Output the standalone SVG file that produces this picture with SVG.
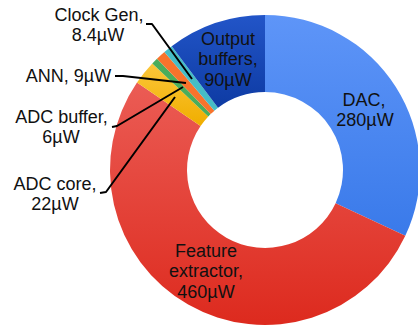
<svg xmlns="http://www.w3.org/2000/svg" width="418" height="328" viewBox="0 0 418 328">
  <defs>
    <!-- vertical shading shared across the ring -->
    <linearGradient id="gDac" gradientUnits="userSpaceOnUse" x1="0" y1="15" x2="0" y2="325">
      <stop offset="0" stop-color="#5e95f8"/>
      <stop offset="1" stop-color="#2b6fe4"/>
    </linearGradient>
    <linearGradient id="gFeat" gradientUnits="userSpaceOnUse" x1="0" y1="15" x2="0" y2="325">
      <stop offset="0" stop-color="#ef6a64"/>
      <stop offset="1" stop-color="#dd2a1e"/>
    </linearGradient>
    <linearGradient id="gCore" gradientUnits="userSpaceOnUse" x1="0" y1="60" x2="0" y2="125">
      <stop offset="0" stop-color="#fcc83e"/>
      <stop offset="1" stop-color="#f0ae00"/>
    </linearGradient>
    <linearGradient id="gOut" gradientUnits="userSpaceOnUse" x1="0" y1="15" x2="0" y2="110">
      <stop offset="0" stop-color="#2255c8"/>
      <stop offset="1" stop-color="#0d3aa2"/>
    </linearGradient>
    <style>
      .lbl { font-family: "Liberation Sans", Arial, sans-serif; font-size: 18px; fill: #111; text-anchor: middle; }
      .lead { fill: none; stroke: #000; stroke-width: 2; stroke-linecap: butt; stroke-linejoin: round; }
    </style>
  </defs>

  <!-- donut slices, clockwise from 12 o'clock; centre (265,170), R=155, r=78 -->
  <g id="slice-dac">
    <path fill="url(#gDac)" d="M265,15 A155,155 0 0 1 405.31,235.87 L335.61,203.15 A78,78 0 0 0 265,92 Z"/>
  </g>
  <g id="slice-feature">
    <path fill="url(#gFeat)" d="M405.31,235.87 A155,155 0 1 1 136.98,82.61 L200.58,126.02 A78,78 0 1 0 335.61,203.15 Z"/>
  </g>
  <g id="slice-adc-core">
    <path fill="url(#gCore)" d="M136.98,82.61 A155,155 0 0 1 152.31,63.57 L208.29,116.44 A78,78 0 0 0 200.58,126.02 Z"/>
  </g>
  <g id="slice-adc-buffer">
    <path fill="#4aad5b" d="M152.31,63.57 A155,155 0 0 1 157.0,58.82 L210.65,114.05 A78,78 0 0 0 208.29,116.44 Z"/>
  </g>
  <g id="slice-ann">
    <path fill="#f8732c" d="M157.0,58.82 A155,155 0 0 1 164.4,52.08 L214.38,110.66 A78,78 0 0 0 210.65,114.05 Z"/>
  </g>
  <g id="slice-clock-gen">
    <path fill="#46bdc6" d="M164.4,52.08 A155,155 0 0 1 171.69,46.23 L218.04,107.72 A78,78 0 0 0 214.38,110.66 Z"/>
  </g>
  <g id="slice-output-buffers">
    <path fill="url(#gOut)" d="M171.69,46.23 A155,155 0 0 1 265,15 L265,92 A78,78 0 0 0 218.04,107.72 Z"/>
  </g>

  <!-- leader lines for the thin slices -->
  <g id="connectors">
    <polyline class="lead" points="146,24 152,24 192,79"/>
    <polyline class="lead" points="115,76 123,76 186,83"/>
    <polyline class="lead" points="112,127 117,126 183,87"/>
    <polyline class="lead" points="100,193 106,192 175,97"/>
  </g>

  <!-- labels -->
  <g id="label-clock-gen">
    <text class="lbl" x="99" y="21">Clock Gen,</text>
    <text class="lbl" x="98" y="41">8.4µW</text>
  </g>
  <g id="label-ann">
    <text class="lbl" x="68.5" y="82">ANN, 9µW</text>
  </g>
  <g id="label-adc-buffer">
    <text class="lbl" x="61.5" y="123">ADC buffer,</text>
    <text class="lbl" x="61" y="143">6µW</text>
  </g>
  <g id="label-adc-core">
    <text class="lbl" x="55" y="190">ADC core,</text>
    <text class="lbl" x="55" y="210">22µW</text>
  </g>
  <g id="label-output-buffers">
    <text class="lbl" x="228" y="45">Output</text>
    <text class="lbl" x="228" y="65">buffers,</text>
    <text class="lbl" x="228" y="86">90µW</text>
  </g>
  <g id="label-dac">
    <text class="lbl" x="364" y="106">DAC,</text>
    <text class="lbl" x="365" y="126">280µW</text>
  </g>
  <g id="label-feature">
    <text class="lbl" x="206" y="257">Feature</text>
    <text class="lbl" x="206" y="277">extractor,</text>
    <text class="lbl" x="206" y="298">460µW</text>
  </g>
</svg>
